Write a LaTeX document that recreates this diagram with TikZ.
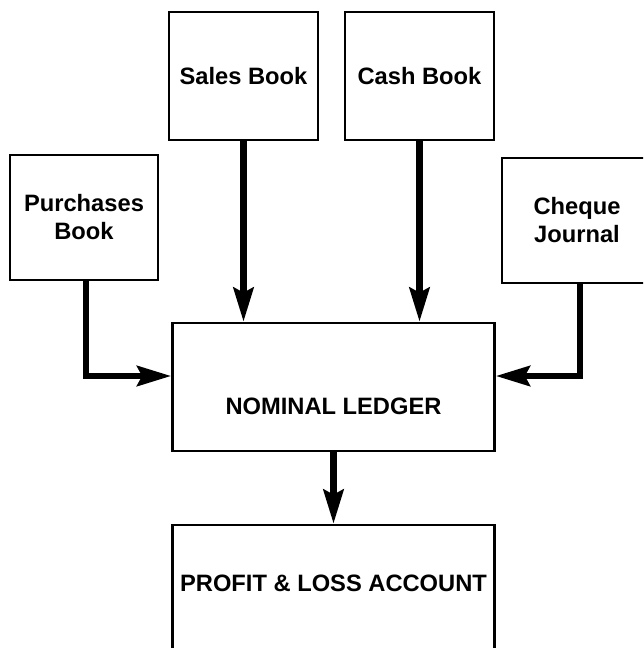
\documentclass[tikz,border=0pt]{standalone}
\usepackage{fontspec}
\setmainfont{Liberation Sans}
\usetikzlibrary{arrows.meta}
\begin{document}
\begin{tikzpicture}[x=1pt,y=-1pt,
  book/.style={draw, line width=2.6pt, align=center, inner sep=0pt,
    font=\fontsize{23.7}{28}\selectfont\bfseries},
  heading/.style={inner sep=0pt, font=\fontsize{23.7}{28}\selectfont\bfseries},
  feed/.style={line width=6.5pt, -{Stealth[length=34pt,width=20pt,inset=5pt]}}]
\useasboundingbox (0,0) rectangle (643,648);
\clip (0,0) rectangle (643,648);
% books
\node[book, minimum width=149pt, minimum height=128pt] (sales) at (243.5,76) {Sales Book};
\node[book, minimum width=149pt, minimum height=128pt] (cash) at (419.5,76) {Cash Book};
\node[book, minimum width=148pt, minimum height=125pt] (purch) at (84,217.5) {Purchases\\Book};
\node[book, minimum width=150pt, minimum height=125pt] (cheque) at (577,220.5) {Cheque\\Journal};
% ledger and account
\node[book, minimum width=322pt, minimum height=128pt] (ledger) at (333.5,387) {};
\node[heading] (ledgertext) at (333.5,406.5) {NOMINAL LEDGER};
\node[book, minimum width=322pt, minimum height=128pt] (profit) at (333.5,589) {};
\node[heading] (profittext) at (333.5,583) {PROFIT \& LOSS ACCOUNT};
% connectors
\draw[feed] (sales.south) -- (sales.south |- ledger.north);
\draw[feed] (cash.south) -- (cash.south |- ledger.north);
\draw[feed] ([xshift=2pt]purch.south) |- ([yshift=11pt]ledger.west);
\draw[feed] ([xshift=3pt]cheque.south) |- ([yshift=11pt]ledger.east);
\draw[feed] (ledger.south) -- (profit.north);
\end{tikzpicture}
\end{document}
